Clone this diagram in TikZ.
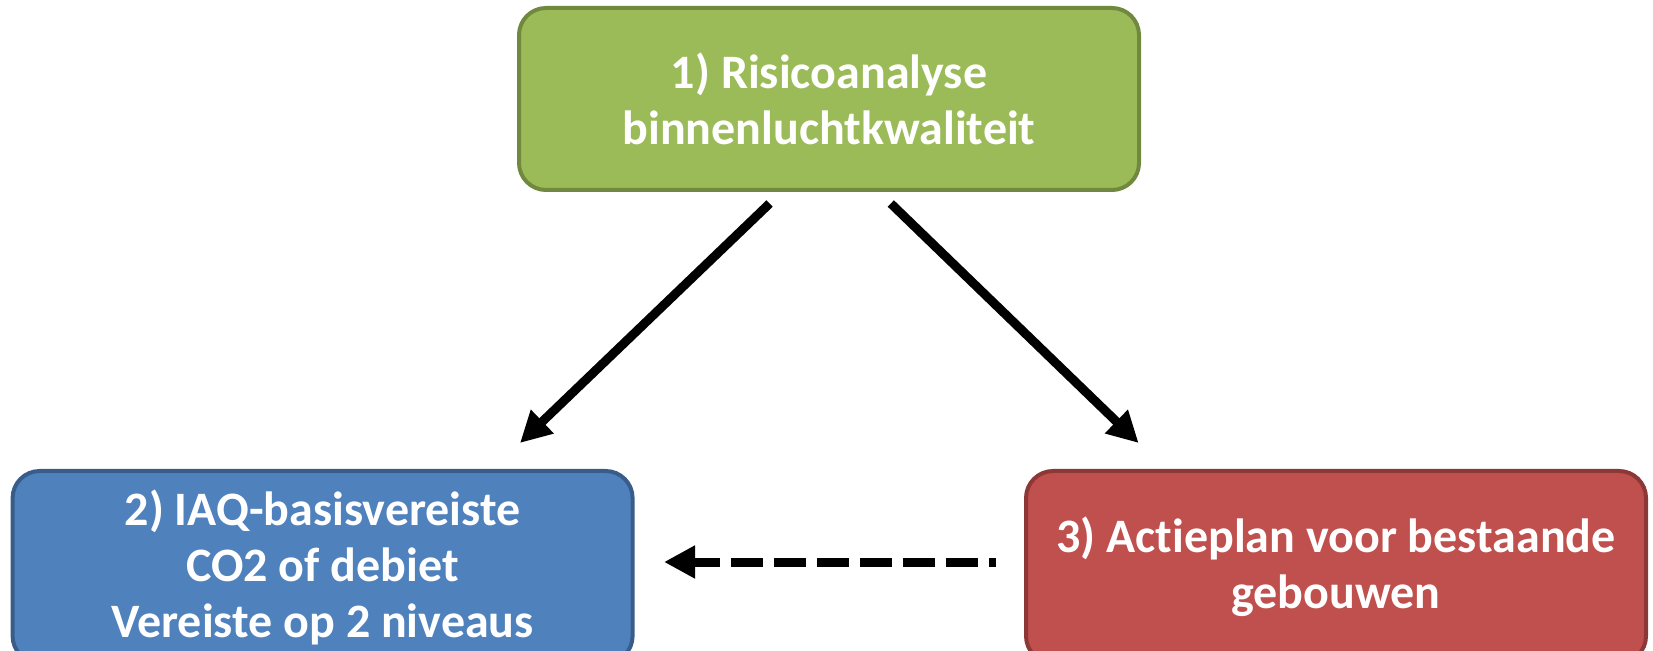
\documentclass[tikz,border=0pt]{standalone}
\usepackage{fontspec}
\setmainfont{Carlito}[Ligatures=NoCommon]
\usetikzlibrary{arrows.meta}
\definecolor{greenfill}{HTML}{9BBB59}
\definecolor{greenline}{HTML}{71893F}
\definecolor{bluefill}{HTML}{4F81BD}
\definecolor{blueline}{HTML}{385D8A}
\definecolor{redfill}{HTML}{C0504D}
\definecolor{redline}{HTML}{8C3836}
\tikzstyle{stepbox} = [rectangle, rounded corners=13.5pt, line width=2pt, outer sep=0pt, minimum width=310pt, minimum height=91pt, align=center, text=white, font=\fontsize{24}{28}\selectfont\bfseries]
\tikzstyle{riskbox} = [stepbox, draw=greenline, fill=greenfill]
\tikzstyle{basisbox} = [stepbox, minimum height=96pt, draw=blueline, fill=bluefill]
\tikzstyle{planbox} = [stepbox, minimum height=96pt, draw=redline, fill=redfill]
\tikzstyle{arrow} = [line width=4.5pt, -{Triangle[length=15.5pt, width=15.5pt]}]
\tikzstyle{dasharrow} = [arrow, dash pattern=on 16pt off 5.5pt, dash phase=12.5pt]

\begin{document}
\begin{tikzpicture}[x=0.5pt, y=-0.5pt]
\useasboundingbox (0,0) rectangle (1653,651);

\node (risk) [riskbox] at (829,99)
	{1) Risicoanalyse\\ binnenluchtkwaliteit};
\node (basis) [basisbox] at (322.6,567)
	{2) IAQ-basisvereiste\\ CO2 of debiet\\ Vereiste op 2 niveaus};
\node (plan) [planbox] at (1336,567)
	{3) Actieplan voor bestaande\\ gebouwen};

\draw [arrow] ([xshift=-29.7pt, yshift=-6.75pt]risk.south) -- ([xshift=98.7pt, yshift=14pt]basis.north);
\draw [arrow] ([xshift=30.9pt, yshift=-6.75pt]risk.south) -- ([xshift=-98.7pt, yshift=14pt]plan.north);
\draw [dasharrow] ([xshift=-15pt, yshift=2.5pt]plan.west) -- ([xshift=15.7pt, yshift=2.5pt]basis.east);

\end{tikzpicture}
\end{document}
